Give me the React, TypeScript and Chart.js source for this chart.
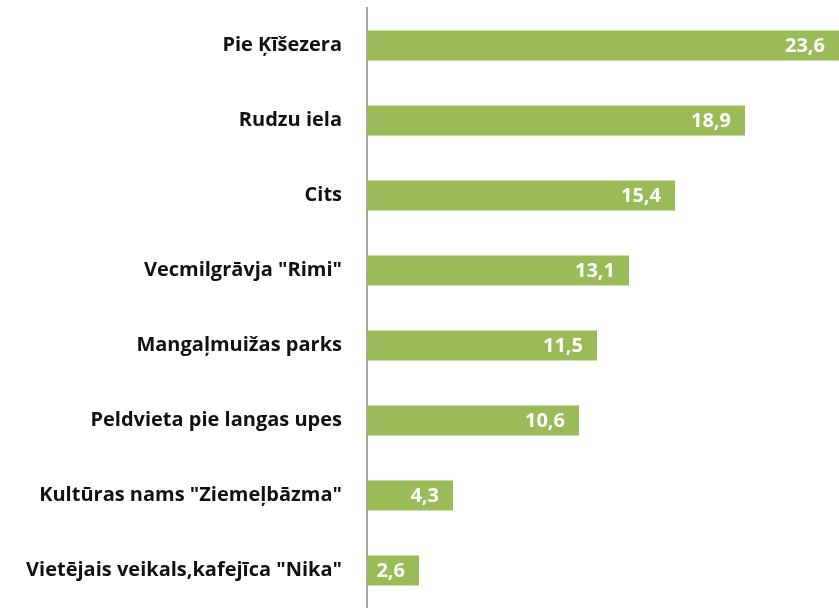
import React, { useEffect, useRef } from "react";
import { Chart, registerables } from "chart.js";

Chart.register(...registerables);

const categories = [
  "Pie Ķīšezera",
  "Rudzu iela",
  "Cits",
  'Vecmilgrāvja "Rimi"',
  "Mangaļmuižas parks",
  "Peldvieta pie langas upes",
  'Kultūras nams "Ziemeļbāzma"',
  'Vietējais veikals,kafejīca "Nika"',
];
const values = [23.6, 18.9, 15.4, 13.1, 11.5, 10.6, 4.3, 2.6];

const FONT = "'Open Sans', sans-serif";

const valueLabels = {
  id: "valueLabels",
  afterDatasetsDraw(chart: any) {
    const ctx = chart.ctx;
    const meta = chart.getDatasetMeta(0);
    ctx.save();
    ctx.fillStyle = "#ffffff";
    ctx.font = `bold 20px ${FONT}`;
    ctx.textAlign = "right";
    ctx.textBaseline = "middle";
    meta.data.forEach((bar: any, i: number) => {
      const txt = values[i].toFixed(1).replace(".", ",");
      const w = ctx.measureText(txt).width;
      const barW = bar.x - bar.base;
      const pad = Math.min(14, (barW - w) / 2 + 4);
      ctx.fillText(txt, bar.x - pad, bar.y + 1);
    });
    ctx.restore();
  },
};

export default function App() {
  const ref = useRef<HTMLCanvasElement>(null);
  useEffect(() => {
    if (!ref.current) return;
    const chart = new Chart(ref.current, {
      type: "bar",
      data: {
        labels: categories,
        datasets: [
          {
            data: values,
            backgroundColor: "#9BBB59",
            barPercentage: 0.4,
            categoryPercentage: 1,
          },
        ],
      },
      options: {
        indexAxis: "y",
        animation: false,
        responsive: false,
        layout: { padding: { top: 8, right: 0, bottom: 0, left: 0 } },
        plugins: { legend: { display: false }, tooltip: { enabled: false } },
        scales: {
          x: { display: false, min: 0, max: 23.6 },
          y: {
            grid: { display: false },
            border: { display: true, color: "#a6a6a6", width: 2 },
            ticks: {
              color: "#111111",
              padding: 17,
              font: { family: FONT, size: 20, weight: "bold" },
            },
            afterFit(scale: any) {
              scale.width = 367;
              scale.paddingTop = 0;
              scale.paddingBottom = 0;
            },
          },
        },
      },
      plugins: [valueLabels],
    });
    return () => chart.destroy();
  }, []);
  return (
    <div style={{ position: "fixed", left: 0, top: 0, width: 839, height: 608, background: "#fff" }}>
      <canvas ref={ref} width={839} height={608} style={{ width: 839, height: 608 }} />
    </div>
  );
}
